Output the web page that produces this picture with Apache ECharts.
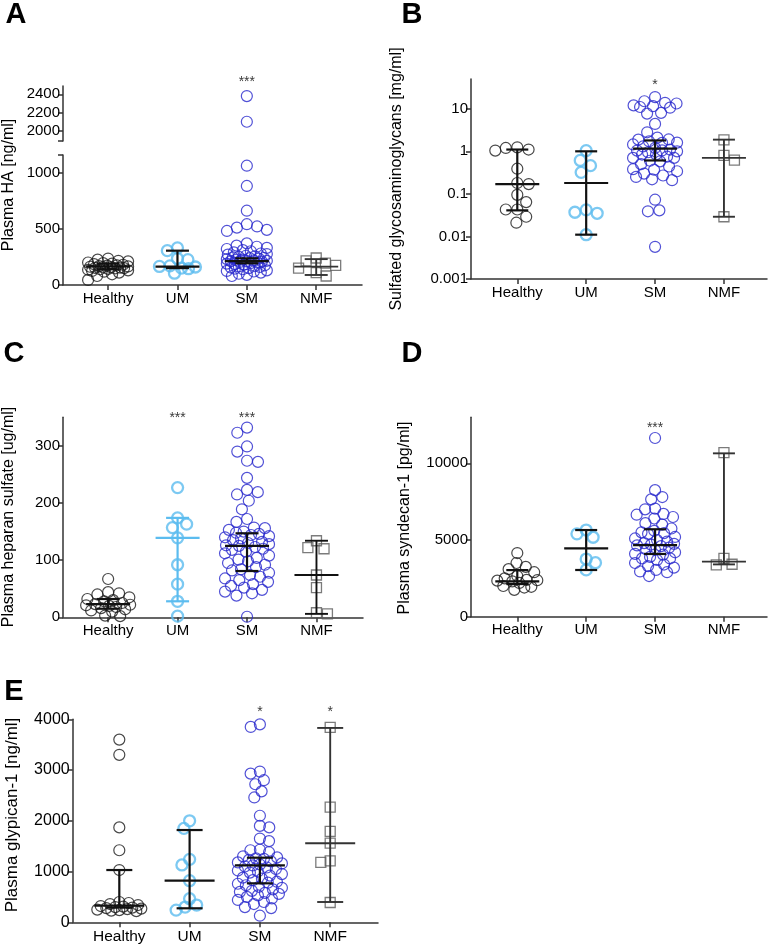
<!DOCTYPE html>
<html><head><meta charset="utf-8">
<script src="https://cdn.jsdelivr.net/npm/echarts@6/dist/echarts.min.js"></script>
<style>html,body{margin:0;padding:0;background:#fff}#c{width:771px;height:950px}</style>
</head><body><div id="c"></div>
<script>
const categories = ['Healthy', 'UM', 'SM', 'NMF'];

// ---- Panel A: Plasma HA [ng/ml] ----
const aHealthy = [235, 225, 215, 210, 200, 195, 190, 185, 180, 175, 172, 168, 165, 162, 160, 158, 155, 152, 150, 147, 143, 140, 135, 130, 125, 118, 110, 95, 80, 45];
const aUM = [330, 305, 235, 225, 170, 165, 160, 150, 145, 105];
const aSM = [2380, 2100, 1060, 880, 660, 540, 520, 510, 490, 480,
  370, 350, 340, 330, 320, 310, 300, 290, 280, 275, 270, 260, 255, 250, 245, 240, 238, 235, 230, 225, 222, 218, 215, 212, 210, 208, 205, 200, 195, 190, 185, 180, 175, 170, 165, 160, 155, 150, 145, 140, 130, 125, 120, 110, 100, 90, 80];
const aNMF = [240, 215, 195, 175, 150, 110, 80];
const aMedian = [165, 163, 213, 163];
const aLow = [140, 150, 193, 89];
const aHigh = [190, 305, 237, 230];
const aStars = ['', '', '***', ''];
const aTickLabelsLower = [0, 500, 1000];
const aTickLabelsUpper = [2000, 2200, 2400];

// ---- Panel B: Sulfated glycosaminoglycans [mg/ml] ----
const bHealthy = [1.1, 1.2, 1.24, 1.04, 0.39, 0.18, 0.17, 0.095, 0.064, 0.043, 0.043, 0.029, 0.021];
const bUM = [1.04, 0.61, 0.46, 0.32, 0.042, 0.037, 0.035, 0.011];
const bSM = [18.8, 15, 13.8, 13.3, 12, 11.5, 11, 10.6, 8, 7.7, 4.4, 2.8, 2.1, 1.9, 1.88, 1.72, 1.6, 1.58, 1.45, 1.3, 1.2, 1.1, 1.05, 1.04, 1.0, 0.95, 0.85, 0.84, 0.75, 0.7, 0.7, 0.6, 0.58, 0.5, 0.44, 0.38, 0.37, 0.34, 0.3, 0.27, 0.25, 0.22, 0.21, 0.073, 0.041, 0.039, 0.0057];
const bNMF = [1.85, 0.8, 0.62, 0.029];
const bMedian = [0.17, 0.18, 1.16, 0.7];
const bLow = [0.041, 0.011, 0.61, 0.029];
const bHigh = [1.1, 1.0, 1.8, 1.88];
const bStars = ['', '', '*', ''];
const bTickLabels = [0.001, 0.01, 0.1, 1, 10];

// ---- Panel C: Plasma heparan sulfate [ug/ml] ----
const cHealthy = [67, 44, 42, 40, 35, 32, 30, 28, 25, 23, 22, 21, 20, 18, 16, 14, 12, 10, 3, 2];
const cUM = [227, 174, 163, 157, 139, 92, 58, 28, 2];
const cSM = [332, 323, 299, 290, 274, 272, 244, 223, 219, 215, 204, 189, 172, 167, 157, 156, 153, 150, 148, 146, 144, 142, 140, 138, 135, 132, 130, 128, 126, 125, 123, 120, 118, 115, 112, 108, 104, 101, 98, 95, 92, 88, 84, 82, 78, 74, 71, 68, 65, 62, 58, 55, 52, 48, 45, 42, 38, 1];
const cNMF = [134, 122, 120, 74, 52, 8, 6];
const cMedian = [23, 139, 125, 74];
const cLow = [15, 28, 81, 6];
const cHigh = [32, 174, 147, 134];
const cStars = ['', '***', '***', ''];
const cTickLabels = [0, 100, 200, 300];

// ---- Panel D: Plasma syndecan-1 [pg/ml] ----
const dHealthy = [4150, 3500, 3250, 3100, 2900, 2650, 2500, 2400, 2380, 2350, 2300, 2200, 2000, 1950, 1900, 1750];
const dUM = [5650, 5400, 5180, 3760, 3520, 3050];
const dSM = [11650, 8250, 7800, 7650, 7050, 7000, 6700, 6650, 6500, 6400, 6100, 6000, 5750, 5600, 5500, 5450, 5400, 5200, 5100, 5000, 4900, 4800, 4750, 4700, 4650, 4600, 4500, 4400, 4350, 4200, 4100, 4050, 3900, 3800, 3800, 3700, 3500, 3400, 3300, 3200, 3050, 2950, 2900, 2650];
const dNMF = [10700, 3800, 3420, 3380];
const dMedian = [2300, 4460, 4670, 3590];
const dLow = [2130, 3045, 4090, 3410];
const dHigh = [3040, 5650, 5700, 10650];
const dStars = ['', '', '***', ''];
const dTickLabels = [0, 5000, 10000];

// ---- Panel E: Plasma glypican-1 [ng/ml] ----
const eHealthy = [3600, 3300, 1870, 1420, 1030, 400, 380, 360, 340, 320, 310, 300, 290, 280, 270, 260, 250, 240, 230, 220];
const eUM = [2000, 1850, 1240, 1130, 820, 465, 340, 300, 240];
const eSM = [3900, 3850, 2970, 2930, 2800, 2720, 2580, 2460, 2100, 1900, 1870, 1650, 1600, 1430, 1420, 1380, 1300, 1280, 1260, 1250, 1230, 1200, 1180, 1160, 1140, 1120, 1100, 1080, 1050, 1020, 1000, 980, 950, 920, 880, 860, 830, 800, 780, 760, 730, 700, 680, 650, 620, 600, 580, 560, 530, 500, 470, 440, 400, 360, 300, 280, 130];
const eNMF = [3840, 2270, 1790, 1560, 1210, 1180, 390];
const eMedian = [327, 820, 1123, 1557];
const eLow = [290, 276, 768, 400];
const eHigh = [1030, 1818, 1273, 3830];
const eStars = ['', '', '*', '*'];
const eTickLabels = [0, 1000, 2000, 3000, 4000];

// ---------- styling / layout ----------
const FONT = '"Liberation Sans", Arial, Helvetica, sans-serif';
const AXIS = '#333333';
const UMC = '#5bbcef';
const groupStyle = [
  { symbol: 'circle', size: 11, color: '#1a1a1a', width: 1.2 },
  { symbol: 'circle', size: 11, color: UMC, width: 2.3 },
  { symbol: 'circle', size: 11, color: '#2626cc', width: 1.2 },
  { symbol: 'rect', size: 10, color: '#5a5a5a', width: 1.3 }
];
const BLK = '#111111', NMFBAR = '#333333';

const panelDefs = [
  { letter: 'A', letterPos: [16, 15], title: 'Plasma HA [ng/ml]', titlePos: [9, 185], titleSize: 16, tickSize: 15, catSize: 15,
    grids: [
      { left: 63, top: 155, width: 299, height: 130, min: 0, max: 1155, extraTicks: [1155], labels: aTickLabelsLower, xAxis: true },
      { left: 63, top: 86, width: 299, height: 55, min: 1890, max: 2490, extraTicks: [1890], labels: aTickLabelsUpper, xAxis: false }
    ],
    xmin: -0.65, xmax: 3.66, groups: [aHealthy, aUM, aSM, aNMF], med: aMedian, lo: aLow, hi: aHigh,
    stars: aStars, starAt: 2560, starGrid: 1, d: 10.5, W: 20, medHalf: 22, capHalf: 11.5,
    barColors: [BLK, BLK, BLK, NMFBAR] },
  { letter: 'B', letterPos: [412, 15], title: 'Sulfated glycosaminoglycans [mg/ml]', titlePos: [397, 179], titleSize: 16, tickSize: 15, catSize: 15, log: true,
    grids: [{ left: 471, top: 79, width: 296, height: 200, min: 0.001, max: 50, extraTicks: [], labels: bTickLabels, xAxis: true }],
    xmin: -0.672, xmax: 3.625, groups: [bHealthy, bUM, bSM, bNMF], med: bMedian, lo: bLow, hi: bHigh,
    stars: bStars, starAt: 42, starGrid: 0, d: 11.5, W: 22, medHalf: 22, capHalf: 11,
    barColors: [BLK, BLK, BLK, NMFBAR] },
  { letter: 'C', letterPos: [14, 354], title: 'Plasma heparan sulfate [ug/ml]', titlePos: [9, 517], titleSize: 16, tickSize: 15, catSize: 15,
    grids: [{ left: 63, top: 417.3, width: 300, height: 200, min: 0, max: 350, extraTicks: [], labels: cTickLabels, xAxis: true }],
    xmin: -0.65, xmax: 3.67, groups: [cHealthy, cUM, cSM, cNMF], med: cMedian, lo: cLow, hi: cHigh,
    stars: cStars, starAt: 353, starGrid: 0, d: 11, W: 22, medHalf: 22, capHalf: 11.5,
    barColors: [BLK, UMC, BLK, BLK] },
  { letter: 'D', letterPos: [412, 354], title: 'Plasma syndecan-1 [pg/ml]', titlePos: [405, 518], titleSize: 16, tickSize: 15, catSize: 15,
    grids: [{ left: 471, top: 417.3, width: 296, height: 199.4, min: 0, max: 13000, extraTicks: [], labels: dTickLabels, xAxis: true }],
    xmin: -0.672, xmax: 3.625, groups: [dHealthy, dUM, dSM, dNMF], med: dMedian, lo: dLow, hi: dHigh,
    stars: dStars, starAt: 12500, starGrid: 0, d: 10, W: 20, medHalf: 22, capHalf: 11,
    barColors: [BLK, BLK, BLK, NMFBAR] },
  { letter: 'E', letterPos: [14, 692], title: 'Plasma glypican-1 [ng/ml]', titlePos: [12, 815], titleSize: 17, tickSize: 16, catSize: 15.5,
    grids: [{ left: 72.7, top: 719.3, width: 305.3, height: 203, min: 0, max: 4000, extraTicks: [], labels: eTickLabels, xAxis: true }],
    xmin: -0.663, xmax: 3.68, groups: [eHealthy, eUM, eSM, eNMF], med: eMedian, lo: eLow, hi: eHigh,
    stars: eStars, starAt: 4203, starGrid: 0, d: 9.5, W: 22, medHalf: 25, capHalf: 13,
    barColors: [BLK, BLK, BLK, NMFBAR] }
];

function gridFor(p, v) {
  for (let k = 0; k < p.grids.length; k++) {
    if (v >= p.grids[k].min && v <= p.grids[k].max) return k;
  }
  return 0;
}
const fmt = v => String(+(+v).toPrecision(6));

function build(offsets) {
  const grid = [], xAxis = [], yAxis = [], series = [], graphic = [];
  let gi = 0;
  panelDefs.forEach(p => {
    const gIdx = [];
    p.grids.forEach(g => {
      grid.push({ left: g.left, top: g.top, width: g.width, height: g.height });
      const ls = { color: AXIS, width: 1.5 };
      xAxis.push({ type: 'value', gridIndex: gi, min: p.xmin, max: p.xmax, show: g.xAxis,
        splitLine: { show: false },
        axisLine: { show: true, onZero: false, lineStyle: ls },
        axisTick: { show: true, length: 5, customValues: [0, 1, 2, 3], lineStyle: ls },
        axisLabel: { customValues: [0, 1, 2, 3], formatter: v => categories[Math.round(v)],
          color: '#000', fontSize: p.catSize, fontFamily: FONT, margin: 6 } });
      yAxis.push({ type: p.log ? 'log' : 'value', logBase: 10, gridIndex: gi, min: g.min, max: g.max,
        splitLine: { show: false },
        axisLine: { show: true, onZero: false, lineStyle: ls },
        axisTick: { show: true, length: 5, customValues: g.labels.concat(g.extraTicks), lineStyle: ls },
        axisLabel: { customValues: g.labels, formatter: fmt, color: '#000', fontSize: p.tickSize, fontFamily: FONT, margin: 3 } });
      gIdx.push(gi); gi++;
    });
    p.gIdx = gIdx;
    // scatter points
    p.groups.forEach((vals, i) => {
      p.grids.forEach((g, k) => {
        const sub = vals.filter(v => gridFor(p, v) === k);
        if (!sub.length) return;
        const key = p.letter + '-' + k + '-' + i;
        const off = offsets && offsets[key] ? offsets[key] : sub.map(() => 0);
        const st = groupStyle[i];
        series.push({ type: 'scatter', xAxisIndex: gIdx[k], yAxisIndex: gIdx[k], silent: true, animation: false,
          clip: false, symbol: st.symbol, symbolSize: st.size, z: 2,
          itemStyle: { color: 'rgba(0,0,0,0)', borderColor: st.color, borderWidth: st.width },
          data: sub.map((v, j) => [i + off[j], v]) });
      });
    });
    // median + error bars
    const bg = gIdx[0];
    series.push({ type: 'custom', xAxisIndex: bg, yAxisIndex: bg, silent: true, animation: false, clip: false, z: 5,
      data: categories.map((c, i) => [i, p.med[i], p.lo[i], p.hi[i]]),
      renderItem: (params, api) => {
        const i = params.dataIndex;
        const pm = api.coord([api.value(0), api.value(1)]);
        const pl = api.coord([api.value(0), api.value(2)]);
        const ph = api.coord([api.value(0), api.value(3)]);
        const style = { stroke: p.barColors[i], lineWidth: i === 3 ? 1.9 : 2.2 };
        const x = pm[0];
        return { type: 'group', children: [
          { type: 'line', shape: { x1: x, y1: pl[1], x2: x, y2: ph[1] }, style },
          { type: 'line', shape: { x1: x - p.capHalf, y1: pl[1], x2: x + p.capHalf, y2: pl[1] }, style },
          { type: 'line', shape: { x1: x - p.capHalf, y1: ph[1], x2: x + p.capHalf, y2: ph[1] }, style },
          { type: 'line', shape: { x1: x - p.medHalf, y1: pm[1], x2: x + p.medHalf, y2: pm[1] }, style }
        ] };
      } });
    // significance stars
    const sg = gIdx[p.starGrid];
    series.push({ type: 'scatter', xAxisIndex: sg, yAxisIndex: sg, silent: true, animation: false, clip: false,
      symbolSize: 1, itemStyle: { color: 'rgba(0,0,0,0)' }, z: 6,
      data: p.stars.map((s, i) => ({ value: [i, p.starAt], s })).filter(o => o.s).map(o => ({ value: o.value,
        label: { show: true, position: 'inside', formatter: o.s, color: '#000', fontSize: 14, fontFamily: FONT, offset: [0, 3] } })) });
    // panel letter and title
    graphic.push({ type: 'text', x: p.letterPos[0], y: p.letterPos[1], silent: true,
      style: { text: p.letter, font: 'bold 29px ' + FONT, fill: '#000', textAlign: 'center', textVerticalAlign: 'middle' } });
    graphic.push({ type: 'text', x: p.titlePos[0], y: p.titlePos[1], rotation: Math.PI / 2, silent: true,
      style: { text: p.title, font: p.titleSize + 'px ' + FONT, fill: '#000', textAlign: 'center', textVerticalAlign: 'middle' } });
  });
  return { animation: false, backgroundColor: '#fff', grid, xAxis, yAxis, series, graphic };
}

// beeswarm placement in pixels (deterministic)
function swarm(ys, d, W) {
  const order = ys.map((y, i) => i).sort((a, b) => ys[a] - ys[b]);
  const placed = [];
  const out = new Array(ys.length);
  let flip = 1;
  order.forEach(k => {
    const y = ys[k];
    const ints = [];
    placed.forEach(pt => {
      const dy = Math.abs(pt.y - y);
      if (dy < d) { const w = Math.sqrt(d * d - dy * dy); ints.push([pt.x - w, pt.x + w]); }
    });
    const ok = x => ints.every(([a, b]) => x <= a + 1e-6 || x >= b - 1e-6);
    const cands = [0];
    ints.forEach(([a, b]) => cands.push(a, b));
    let best = null;
    cands.forEach(x => {
      if (Math.abs(x) > W + 1e-6 || !ok(x)) return;
      if (best === null || Math.abs(x) < Math.abs(best) - 1e-6 ||
          (Math.abs(Math.abs(x) - Math.abs(best)) < 1e-6 && x * flip > 0)) best = x;
    });
    if (best === null) {
      let bestScore = -1;
      for (let x = -W; x <= W + 1e-6; x += 1) {
        let m = Infinity;
        placed.forEach(pt => { const dd = Math.hypot(pt.x - x, pt.y - y); if (dd < m) m = dd; });
        if (m > bestScore + 1e-6 || (Math.abs(m - bestScore) < 1e-6 && Math.abs(x) < Math.abs(best))) { bestScore = m; best = x; }
      }
    }
    flip = -flip;
    out[k] = best;
    placed.push({ x: best, y });
  });
  return out;
}

const chart = echarts.init(document.getElementById('c'), null, { renderer: 'canvas' });
chart.setOption(build(null));
const offsets = {};
panelDefs.forEach(p => {
  p.groups.forEach((vals, i) => {
    p.grids.forEach((g, k) => {
      const sub = vals.filter(v => gridFor(p, v) === k);
      if (!sub.length) return;
      const gi = p.gIdx[k];
      const ys = sub.map(v => chart.convertToPixel({ gridIndex: gi }, [i, v])[1]);
      const x0 = chart.convertToPixel({ gridIndex: gi }, [0, sub[0]])[0];
      const x1 = chart.convertToPixel({ gridIndex: gi }, [1, sub[0]])[0];
      const ppu = x1 - x0;
      offsets[p.letter + '-' + k + '-' + i] = swarm(ys, p.d, p.W).map(px => px / ppu);
    });
  });
});
chart.setOption(build(offsets), true);
</script>
</body></html>
